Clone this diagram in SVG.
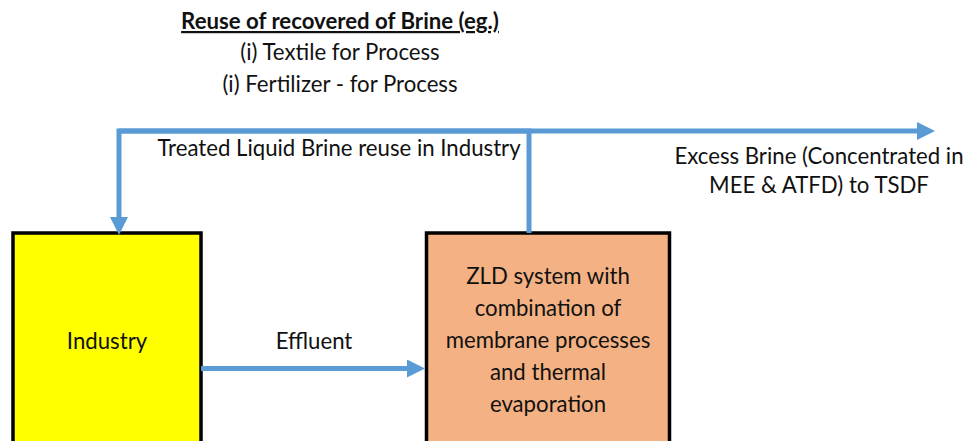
<svg xmlns="http://www.w3.org/2000/svg" width="968" height="441" viewBox="0 0 968 441">
  <style>
    text { font-family: Lato, "Liberation Sans", sans-serif; font-size: 22.2px; fill: #111; text-anchor: middle; }
    .title { font-weight: bold; text-decoration: underline; }
    .box { stroke: #000; stroke-width: 3.5; }
    .flow { fill: none; stroke: #5B9BD5; stroke-width: 5; stroke-linejoin: miter; }
  </style>
  <defs>
    <marker id="arrow" markerUnits="userSpaceOnUse" markerWidth="18" markerHeight="18" viewBox="0 0 18 18" refX="0" refY="9" orient="auto">
      <path d="M0,0 L18,9 L0,18 z" fill="#5B9BD5"/>
    </marker>
  </defs>

  <!-- heading with examples of brine reuse -->
  <g id="reuse-note">
    <text class="title" x="340" y="29">Reuse of recovered of Brine (eg.)</text>
    <text x="340" y="60">(i) Textile for Process</text>
    <text x="340" y="92">(i) Fertilizer - for Process</text>
  </g>

  <g id="industry">
    <rect class="box" x="13" y="233" width="188" height="230" fill="#FFFF00"/>
    <text x="107" y="349">Industry</text>
  </g>

  <g id="zld">
    <rect class="box" x="426.5" y="233" width="243" height="230" fill="#F4B183"/>
    <text x="548" y="284">ZLD system with</text>
    <text x="548" y="316">combination of</text>
    <text x="548" y="348">membrane processes</text>
    <text x="548" y="380">and thermal</text>
    <text x="548" y="412">evaporation</text>
  </g>

  <g id="connectors">
    <!-- treated brine back to industry -->
    <path class="flow" d="M529,233 V131 H119 V217" marker-end="url(#arrow)"/>
    <!-- excess brine out -->
    <path class="flow" d="M119,131 H917" marker-end="url(#arrow)"/>
    <!-- effluent into ZLD -->
    <path class="flow" d="M201,368.5 H407" marker-end="url(#arrow)"/>
    <text x="339" y="156">Treated Liquid Brine reuse in Industry</text>
    <text x="819" y="164">Excess Brine (Concentrated in</text>
    <text x="819" y="193">MEE &amp; ATFD) to TSDF</text>
    <text x="314" y="349">Effluent</text>
  </g>
</svg>
